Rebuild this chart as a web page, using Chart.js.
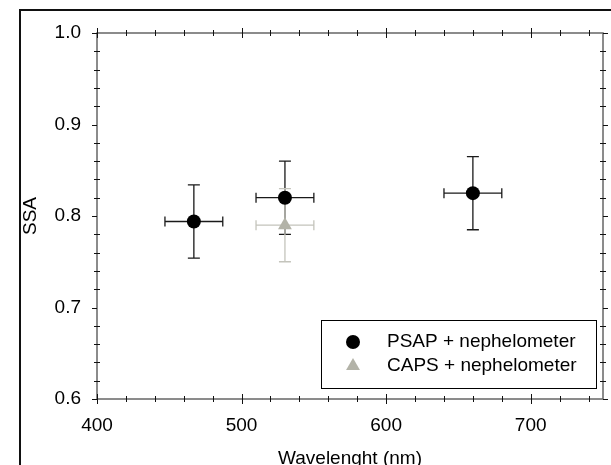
<!DOCTYPE html>
<html>
<head>
<meta charset="utf-8">
<script src="https://cdn.jsdelivr.net/npm/chart.js@4.4.1/dist/chart.umd.min.js"></script>
<style>
  html, body { margin: 0; padding: 0; background: #fff; }
  #wrap { width: 611px; height: 465px; position: relative; }
</style>
</head>
<body>
<div id="wrap"><canvas id="ssaChart" width="611" height="465"></canvas></div>
<script>
// data
const psapWavelength = [467, 530, 660];
const psapSSA = [0.794, 0.820, 0.825];
const psapErrX = [20, 20, 20];
const psapErrY = [0.04, 0.04, 0.04];

const capsWavelength = [530];
const capsSSA = [0.790];
const capsErrX = [20];
const capsErrY = [0.04];

const xTicks = [400, 500, 600, 700];
const yTicks = [0.6, 0.7, 0.8, 0.9, 1.0];

const FONT = "'Liberation Sans', Arial, sans-serif";

function toPoints(xs, ys, ex, ey) {
  return xs.map((x, i) => ({ x: x, y: ys[i], ex: ex[i], ey: ey[i] }));
}

// error bars, drawn under the markers
const errorBars = {
  id: "errorBars",
  beforeDatasetsDraw(chart) {
    const { ctx, scales: { x, y } } = chart;
    chart.data.datasets.forEach(ds => {
      ctx.save();
      ctx.strokeStyle = ds.errColor;
      ctx.lineWidth = 1.3;
      ds.data.forEach(p => {
        const px = x.getPixelForValue(p.x);
        const py = y.getPixelForValue(p.y);
        const x0 = x.getPixelForValue(p.x - p.ex);
        const x1 = x.getPixelForValue(p.x + p.ex);
        const y0 = y.getPixelForValue(p.y - p.ey);
        const y1 = y.getPixelForValue(p.y + p.ey);
        ctx.beginPath();
        ctx.moveTo(x0, py); ctx.lineTo(x1, py);
        ctx.moveTo(x0, py - 5); ctx.lineTo(x0, py + 5);
        ctx.moveTo(x1, py - 5); ctx.lineTo(x1, py + 5);
        ctx.moveTo(px, y0); ctx.lineTo(px, y1);
        ctx.moveTo(px - 6, y0); ctx.lineTo(px + 6, y0);
        ctx.moveTo(px - 6, y1); ctx.lineTo(px + 6, y1);
        ctx.stroke();
      });
      ctx.restore();
    });
  }
};

// box, minor ticks, outer frame and legend
const frame = {
  id: "frame",
  afterDraw(chart) {
    const { ctx, chartArea: a, scales: { x, y } } = chart;
    ctx.save();

    // outer frame (cut by the page edge)
    ctx.strokeStyle = "#111";
    ctx.lineWidth = 2;
    ctx.beginPath();
    ctx.moveTo(20, 470); ctx.lineTo(20, 10); ctx.lineTo(620, 10);
    ctx.stroke();

    // plot box
    ctx.strokeStyle = "#666";
    ctx.lineWidth = 1.5;
    ctx.strokeRect(a.left, a.top, a.right - a.left, a.bottom - a.top);

    ctx.strokeStyle = "#111";
    ctx.lineWidth = 1;
    ctx.beginPath();
    for (let v = 400; v <= 750; v += 20) {
      const px = Math.round(x.getPixelForValue(v)) + 0.5;
      const major = v % 100 === 0;
      const h = major ? 5 : 3;
      ctx.moveTo(px, a.bottom - h); ctx.lineTo(px, a.bottom + h);
      ctx.moveTo(px, a.top - h); ctx.lineTo(px, a.top + h);
    }
    for (let k = 0; k <= 20; k++) {
      const v = 0.6 + k * 0.02;
      const py = Math.round(y.getPixelForValue(v)) + 0.5;
      const major = k % 5 === 0;
      if (major) {
        ctx.moveTo(a.left - 5, py); ctx.lineTo(a.left, py);
        ctx.moveTo(a.right, py); ctx.lineTo(a.right + 5, py);
      } else {
        ctx.moveTo(a.left - 3, py); ctx.lineTo(a.left + 3, py);
        ctx.moveTo(a.right - 3, py); ctx.lineTo(a.right + 3, py);
      }
    }
    ctx.stroke();

    // legend
    const lx = 321, ly = 320, lw = 275, lh = 68;
    ctx.fillStyle = "#fff";
    ctx.fillRect(lx, ly, lw, lh);
    ctx.strokeStyle = "#000";
    ctx.lineWidth = 1;
    ctx.strokeRect(lx + 0.5, ly + 0.5, lw, lh);
    ctx.font = "19px " + FONT;
    ctx.textBaseline = "middle";
    ctx.textAlign = "left";
    chart.data.datasets.forEach((ds, i) => {
      const cy = ly + 22 + i * 24;
      ctx.fillStyle = ds.backgroundColor;
      ctx.strokeStyle = ds.backgroundColor;
      Chart.helpers.drawPoint(ctx, {
        pointStyle: ds.pointStyle,
        radius: ds.pointRadius,
        borderWidth: 0,
        rotation: 0
      }, lx + 32, cy);
      ctx.fillStyle = "#000";
      ctx.fillText(ds.label, lx + 66, cy);
    });
    ctx.restore();
  }
};

new Chart(document.getElementById("ssaChart"), {
  type: "scatter",
  data: {
    datasets: [
      {
        label: "PSAP + nephelometer",
        data: toPoints(psapWavelength, psapSSA, psapErrX, psapErrY),
        pointStyle: "circle",
        pointRadius: 7,
        backgroundColor: "#000000",
        borderColor: "#000000",
        borderWidth: 0,
        errColor: "#1a1a1a"
      },
      {
        label: "CAPS + nephelometer",
        data: toPoints(capsWavelength, capsSSA, capsErrX, capsErrY),
        pointStyle: "triangle",
        pointRadius: 8,
        backgroundColor: "#b3b3a8",
        borderColor: "#b3b3a8",
        borderWidth: 0,
        errColor: "#c4c4bc"
      }
    ]
  },
  options: {
    responsive: false,
    animation: false,
    layout: { padding: { left: 0, top: 33, right: 8, bottom: 0 } },
    plugins: {
      legend: { display: false },
      tooltip: { enabled: false }
    },
    scales: {
      x: {
        type: "linear",
        min: 400,
        max: 750,
        grid: { display: false, drawTicks: false },
        border: { display: false },
        afterBuildTicks: s => { s.ticks = xTicks.map(v => ({ value: v })); },
        afterFit: s => { s.height = 66; },
        ticks: {
          padding: 15,
          color: "#000",
          font: { family: FONT, size: 19 },
          callback: v => String(v)
        },
        title: {
          display: true,
          text: "Wavelenght (nm)",
          color: "#000",
          font: { family: FONT, size: 19, lineHeight: 0.66 },
          padding: { top: 0, bottom: 0 }
        }
      },
      y: {
        min: 0.6,
        max: 1.0,
        grid: { display: false, drawTicks: false },
        border: { display: false },
        afterBuildTicks: s => { s.ticks = yTicks.map(v => ({ value: v })); },
        afterFit: s => { s.width = 97; },
        ticks: {
          padding: 16,
          color: "#000",
          font: { family: FONT, size: 19 },
          callback: v => v.toFixed(1)
        },
        title: {
          display: true,
          text: "SSA",
          color: "#000",
          font: { family: FONT, size: 19 },
          padding: { top: 19, bottom: 0 }
        }
      }
    }
  },
  plugins: [errorBars, frame]
});
</script>
</body>
</html>
